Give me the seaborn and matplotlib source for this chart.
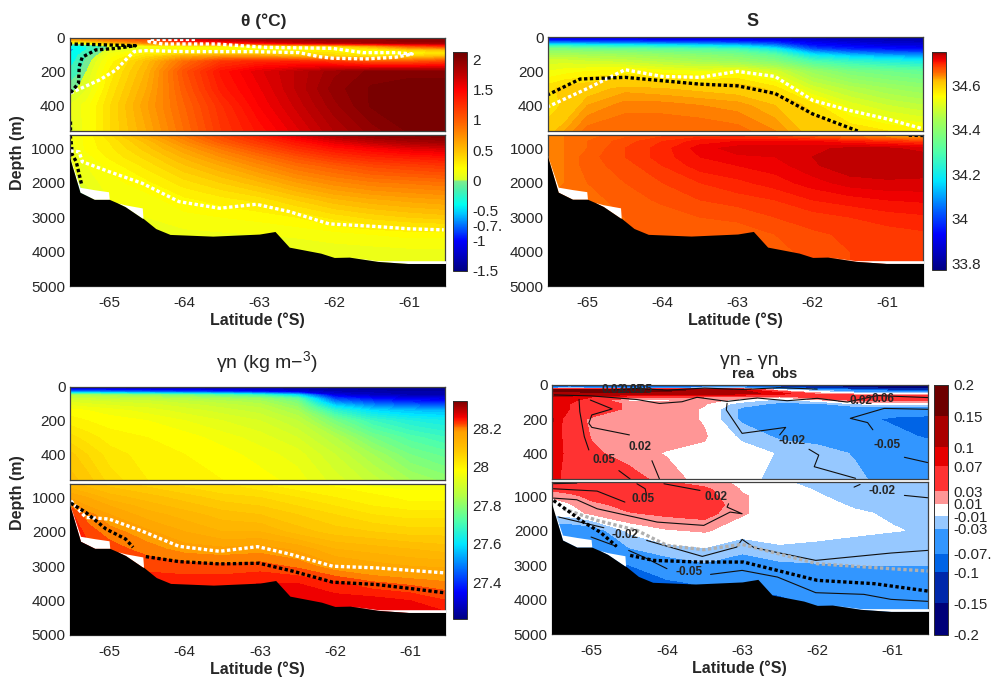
import numpy as np
import pandas as pd
import seaborn as sns
import matplotlib
matplotlib.use('Agg')
import matplotlib.pyplot as plt
from matplotlib.colors import LinearSegmentedColormap, ListedColormap, BoundaryNorm, Normalize
from matplotlib.cm import ScalarMappable

sns.set_style('white')
plt.rcParams['font.family'] = ['Liberation Sans', 'DejaVu Sans']
plt.rcParams['mathtext.default'] = 'regular'
plt.rcParams['axes.unicode_minus'] = False

# grid nodes of all sections
LATS = [-65.55, -65.3, -65, -64.5, -64, -63.5, -63, -62.5, -62, -61.5, -61, -60.5]
UPPER_DEPTHS = [0, 15, 30, 50, 70, 90, 110, 140, 200, 300, 400, 550]
LOWER_DEPTHS = [600, 800, 1000, 1250, 1500, 2000, 2500, 3000, 3500, 4000, 4500, 5000]

THETA_UP = [
    [0.8, 0.9, 1.0, 1.1, 1.5, 1.6, 1.7, 1.75, 1.8, 1.85, 1.9, 1.9],
    [0.5, 0.6, 0.8, 1.0, 1.5, 1.7, 1.8, 1.85, 1.9, 1.9, 1.95, 1.95],
    [0.1, 0.2, 0.5, 0.8, 1.0, 1.3, 1.5, 1.7, 1.8, 1.85, 1.9, 1.9],
    [-0.5, -0.3, 0.0, 0.15, 0.2, 0.2, 0.2, 0.25, 0.35, 0.6, 1.0, 1.2],
    [-0.6, -0.3, 0.05, 0.1, 0.2, 0.2, 0.2, 0.2, 0.2, 0.2, 0.4, 0.5],
    [-0.55, -0.2, 0.1, 0.25, 0.3, 0.35, 0.35, 0.3, 0.3, 0.15, 0.2, 0.3],
    [-0.5, -0.1, 0.15, 0.35, 0.6, 0.7, 0.7, 0.55, 0.4, 0.3, 0.4, 0.5],
    [-0.45, -0.05, 0.2, 0.5, 0.9, 1.2, 1.3, 1.3, 1.2, 1.0, 1.0, 1.1],
    [-0.3, 0.0, 0.25, 0.55, 1.05, 1.4, 1.6, 1.75, 1.9, 2.0, 2.0, 2.0],
    [-0.05, 0.05, 0.3, 0.6, 1.0, 1.35, 1.55, 1.75, 1.95, 2.05, 2.1, 2.1],
    [0.05, 0.15, 0.35, 0.65, 0.95, 1.25, 1.5, 1.7, 1.9, 2.05, 2.1, 2.1],
    [0.0, 0.15, 0.35, 0.6, 0.9, 1.2, 1.4, 1.6, 1.8, 1.95, 2.05, 2.1],
]
THETA_LOW = [
    [0.1, 0.2, 0.35, 0.6, 0.85, 1.1, 1.35, 1.6, 1.8, 1.95, 2.0, 2.05],
    [0.08, 0.2, 0.3, 0.5, 0.75, 1.0, 1.2, 1.4, 1.6, 1.75, 1.85, 1.9],
    [0.05, 0.2, 0.28, 0.45, 0.65, 0.85, 1.05, 1.25, 1.4, 1.5, 1.6, 1.65],
    [0.05, 0.15, 0.25, 0.38, 0.55, 0.72, 0.88, 1.05, 1.2, 1.3, 1.35, 1.4],
    [0.05, 0.12, 0.2, 0.32, 0.47, 0.6, 0.75, 0.9, 1.0, 1.1, 1.15, 1.2],
    [-0.1, 0.08, 0.15, 0.22, 0.33, 0.42, 0.52, 0.65, 0.75, 0.82, 0.85, 0.88],
    [-0.2, -0.05, 0.12, 0.15, 0.22, 0.27, 0.32, 0.42, 0.52, 0.58, 0.62, 0.65],
    [0.1, 0.1, 0.1, 0.12, 0.16, 0.18, 0.2, 0.24, 0.32, 0.38, 0.42, 0.45],
    [0.08, 0.08, 0.08, 0.1, 0.1, 0.11, 0.12, 0.13, 0.15, 0.18, 0.2, 0.2],
    [0.07, 0.07, 0.07, 0.07, 0.08, 0.08, 0.08, 0.08, 0.09, 0.09, 0.1, 0.1],
    [0.07, 0.07, 0.07, 0.07, 0.07, 0.07, 0.07, 0.07, 0.07, 0.07, 0.08, 0.08],
    [0.07, 0.07, 0.07, 0.07, 0.07, 0.07, 0.07, 0.07, 0.07, 0.07, 0.07, 0.07],
]

SAL_UP = [
    [33.88, 33.88, 33.88, 33.88, 33.87, 33.87, 33.86, 33.85, 33.83, 33.82, 33.81, 33.8],
    [33.94, 33.94, 33.94, 33.93, 33.92, 33.92, 33.91, 33.9, 33.87, 33.85, 33.84, 33.83],
    [34.05, 34.05, 34.04, 34.03, 34.02, 34.01, 34.0, 33.97, 33.91, 33.88, 33.86, 33.85],
    [34.25, 34.25, 34.23, 34.22, 34.2, 34.18, 34.15, 34.08, 33.95, 33.92, 33.9, 33.89],
    [34.38, 34.38, 34.36, 34.35, 34.33, 34.31, 34.28, 34.2, 34.02, 33.97, 33.95, 33.94],
    [34.42, 34.42, 34.41, 34.4, 34.38, 34.36, 34.34, 34.27, 34.12, 34.06, 34.03, 34.02],
    [34.46, 34.46, 34.45, 34.44, 34.42, 34.4, 34.38, 34.33, 34.2, 34.15, 34.12, 34.1],
    [34.5, 34.5, 34.49, 34.48, 34.46, 34.44, 34.42, 34.38, 34.29, 34.25, 34.22, 34.2],
    [34.53, 34.54, 34.55, 34.56, 34.54, 34.53, 34.54, 34.5, 34.42, 34.37, 34.35, 34.33],
    [34.58, 34.6, 34.61, 34.625, 34.62, 34.615, 34.61, 34.58, 34.5, 34.46, 34.43, 34.41],
    [34.56, 34.6, 34.63, 34.645, 34.645, 34.64, 34.635, 34.62, 34.58, 34.52, 34.49, 34.47],
    [34.61, 34.63, 34.655, 34.66, 34.66, 34.66, 34.655, 34.64, 34.61, 34.59, 34.57, 34.555],
]
SAL_LOW = [
    [34.64, 34.65, 34.655, 34.665, 34.675, 34.68, 34.68, 34.67, 34.65, 34.63, 34.61, 34.6],
    [34.645, 34.65, 34.66, 34.675, 34.69, 34.705, 34.71, 34.71, 34.71, 34.7, 34.69, 34.68],
    [34.645, 34.65, 34.66, 34.68, 34.695, 34.715, 34.725, 34.725, 34.728, 34.732, 34.732, 34.725],
    [34.645, 34.65, 34.665, 34.68, 34.695, 34.71, 34.718, 34.72, 34.73, 34.738, 34.738, 34.735],
    [34.645, 34.65, 34.665, 34.675, 34.69, 34.705, 34.71, 34.715, 34.728, 34.738, 34.738, 34.735],
    [34.645, 34.65, 34.66, 34.67, 34.68, 34.69, 34.697, 34.705, 34.715, 34.725, 34.728, 34.728],
    [34.65, 34.65, 34.655, 34.665, 34.672, 34.68, 34.685, 34.69, 34.7, 34.705, 34.71, 34.712],
    [34.65, 34.65, 34.655, 34.66, 34.665, 34.67, 34.672, 34.68, 34.685, 34.69, 34.695, 34.698],
    [34.65, 34.65, 34.655, 34.66, 34.66, 34.662, 34.665, 34.67, 34.678, 34.682, 34.685, 34.688],
    [34.65, 34.65, 34.655, 34.66, 34.66, 34.66, 34.655, 34.665, 34.675, 34.68, 34.68, 34.68],
    [34.65, 34.65, 34.655, 34.66, 34.66, 34.66, 34.655, 34.665, 34.675, 34.68, 34.68, 34.68],
    [34.65, 34.65, 34.655, 34.66, 34.66, 34.66, 34.655, 34.665, 34.675, 34.68, 34.68, 34.68],
]

GAMMA_UP = [
    [27.26, 27.26, 27.26, 27.25, 27.25, 27.24, 27.24, 27.23, 27.23, 27.22, 27.22, 27.22],
    [27.33, 27.33, 27.32, 27.31, 27.3, 27.29, 27.28, 27.27, 27.25, 27.24, 27.24, 27.23],
    [27.5, 27.5, 27.48, 27.45, 27.42, 27.4, 27.36, 27.32, 27.27, 27.26, 27.25, 27.25],
    [27.84, 27.84, 27.82, 27.8, 27.78, 27.74, 27.7, 27.6, 27.32, 27.29, 27.27, 27.27],
    [27.9, 27.89, 27.88, 27.87, 27.85, 27.83, 27.81, 27.74, 27.42, 27.36, 27.33, 27.32],
    [27.93, 27.92, 27.91, 27.9, 27.88, 27.86, 27.84, 27.78, 27.5, 27.43, 27.39, 27.38],
    [27.95, 27.94, 27.93, 27.92, 27.9, 27.88, 27.86, 27.8, 27.58, 27.5, 27.46, 27.45],
    [27.98, 27.97, 27.96, 27.94, 27.92, 27.9, 27.88, 27.83, 27.67, 27.59, 27.56, 27.55],
    [28.0, 27.99, 27.98, 27.97, 27.95, 27.93, 27.91, 27.87, 27.77, 27.69, 27.65, 27.63],
    [28.04, 28.02, 28.0, 27.99, 27.98, 27.96, 27.94, 27.91, 27.85, 27.77, 27.72, 27.69],
    [28.08, 28.05, 28.02, 28.0, 27.99, 27.98, 27.96, 27.94, 27.89, 27.83, 27.77, 27.74],
    [28.1, 28.08, 28.04, 28.01, 28.0, 27.99, 27.98, 27.96, 27.92, 27.88, 27.83, 27.8],
]
GAMMA_LOW = [
    [28.12, 28.1, 28.08, 28.06, 28.04, 28.03, 28.01, 28.0, 27.98, 27.96, 27.96, 27.95],
    [28.14, 28.12, 28.1, 28.08, 28.06, 28.04, 28.03, 28.01, 28.0, 27.98, 27.97, 27.97],
    [28.17, 28.15, 28.12, 28.1, 28.08, 28.06, 28.05, 28.03, 28.01, 28.0, 27.98, 27.98],
    [28.21, 28.17, 28.15, 28.12, 28.1, 28.08, 28.07, 28.05, 28.03, 28.01, 28.0, 28.0],
    [28.24, 28.2, 28.17, 28.14, 28.12, 28.1, 28.09, 28.07, 28.05, 28.03, 28.02, 28.02],
    [28.26, 28.22, 28.2, 28.175, 28.15, 28.13, 28.13, 28.1, 28.08, 28.07, 28.06, 28.06],
    [28.27, 28.24, 28.22, 28.2, 28.18, 28.175, 28.18, 28.165, 28.13, 28.12, 28.11, 28.1],
    [28.23, 28.23, 28.23, 28.225, 28.22, 28.215, 28.22, 28.205, 28.175, 28.16, 28.15, 28.145],
    [28.24, 28.24, 28.24, 28.24, 28.24, 28.245, 28.25, 28.25, 28.235, 28.215, 28.205, 28.195],
    [28.25, 28.25, 28.25, 28.25, 28.25, 28.26, 28.265, 28.265, 28.26, 28.26, 28.25, 28.23],
    [28.25, 28.25, 28.25, 28.25, 28.25, 28.26, 28.265, 28.265, 28.26, 28.26, 28.26, 28.26],
    [28.25, 28.25, 28.25, 28.25, 28.25, 28.26, 28.265, 28.265, 28.26, 28.26, 28.26, 28.26],
]

DIFF_UP = [
    [-0.12, -0.1, -0.08, -0.08, -0.09, -0.1, -0.12, -0.13, -0.16, -0.18, -0.19, -0.2],
    [-0.08, -0.06, -0.08, -0.09, -0.08, -0.06, -0.05, -0.09, -0.13, -0.15, -0.17, -0.18],
    [0.17, 0.17, 0.18, 0.18, 0.16, 0.14, 0.1, 0.0, -0.03, -0.07, -0.1, -0.12],
    [0.13, 0.13, 0.13, 0.14, 0.13, 0.12, 0.11, 0.09, 0.02, 0.0, 0.0, 0.0],
    [0.1, 0.09, 0.07, 0.04, 0.04, 0.03, 0.02, 0.01, 0.05, 0.07, 0.06, 0.06],
    [0.09, 0.08, 0.05, 0.005, 0.005, 0.02, 0.0, -0.02, 0.0, 0.03, 0.03, 0.03],
    [0.09, 0.07, 0.05, 0.025, 0.02, 0.012, -0.02, -0.035, -0.035, -0.01, 0.0, 0.0],
    [0.09, 0.07, 0.05, 0.025, 0.02, 0.008, -0.035, -0.045, -0.05, -0.05, -0.05, -0.05],
    [0.11, 0.045, 0.025, 0.02, 0.02, 0.008, -0.035, -0.045, -0.05, -0.06, -0.075, -0.08],
    [0.1, 0.05, 0.028, 0.02, 0.02, 0.012, -0.015, -0.035, -0.04, -0.05, -0.06, -0.075],
    [0.09, 0.06, 0.035, 0.02, 0.008, 0.005, 0.0, -0.012, -0.02, -0.032, -0.05, -0.05],
    [0.08, 0.06, 0.05, 0.04, 0.02, 0.0, 0.0, -0.02, -0.02, -0.025, -0.04, -0.045],
]
DIFF_LOW = [
    [0.04, 0.045, 0.045, 0.04, 0.032, 0.02, 0.005, -0.005, -0.02, -0.025, -0.025, -0.025],
    [0.035, 0.045, 0.05, 0.05, 0.045, 0.035, 0.008, 0.0, -0.012, -0.02, -0.025, -0.025],
    [0.012, 0.02, 0.04, 0.05, 0.05, 0.04, 0.012, 0.0, -0.008, -0.018, -0.022, -0.025],
    [0.0, 0.008, 0.022, 0.04, 0.05, 0.05, 0.012, 0.0, -0.005, -0.012, -0.018, -0.02],
    [-0.005, 0.0, 0.014, 0.028, 0.035, 0.04, 0.012, 0.0, -0.002, -0.008, -0.012, -0.015],
    [-0.05, -0.05, -0.045, -0.005, 0.008, 0.012, 0.0, -0.002, -0.004, -0.006, -0.009, -0.012],
    [-0.05, -0.05, -0.05, -0.03, -0.015, -0.01, -0.022, -0.012, -0.014, -0.018, -0.022, -0.024],
    [-0.08, -0.08, -0.08, -0.07, -0.045, -0.033, -0.045, -0.035, -0.032, -0.03, -0.03, -0.03],
    [-0.08, -0.08, -0.08, -0.08, -0.075, -0.065, -0.06, -0.055, -0.05, -0.05, -0.045, -0.045],
    [-0.08, -0.08, -0.08, -0.08, -0.08, -0.08, -0.08, -0.075, -0.06, -0.05, -0.045, -0.04],
    [-0.08, -0.08, -0.08, -0.08, -0.08, -0.08, -0.08, -0.08, -0.06, -0.05, -0.045, -0.04],
    [-0.08, -0.08, -0.08, -0.08, -0.08, -0.08, -0.08, -0.08, -0.06, -0.05, -0.045, -0.04],
]

# sea floor and the lower limit of the gridded data
FLOOR_LAT = [-65.55, -65.39, -65.2, -65.01, -65.0, -64.9, -64.79, -64.56, -64.55, -64.38, -64.19, -63.62,
             -63.0, -62.79, -62.6, -62.18, -62.0, -61.8, -61.42, -61.02, -60.5]
FLOOR_DEPTH = [1100, 2275, 2480, 2480, 2480, 2575, 2690, 3030, 3030, 3330, 3500, 3550,
               3490, 3415, 3870, 4045, 4170, 4160, 4285, 4345, 4345]
DATA_BOTTOM = [1100, 2130, 2200, 2260, 2480, 2575, 2640, 2730, 3030, 3330, 3500, 3550,
               3490, 3415, 3870, 4045, 4170, 4160, 4265, 4265, 4265]

# isolines drawn over the sections: (lat, depth, colour)
THETA_LINES_UP = [
    ([-65.52, -65.13, -64.91, -64.76, -64.67, -64.51, -63.98, -63.09, -62.47, -62.2, -62.02, -61.58, -61.18,
      -60.96, -61.18, -61.62, -62.02, -62.91, -63.58, -64.29, -64.47, -64.47, -63.84],
     [327, 249, 190, 121, 82, 76, 82, 82, 88, 112, 121, 125, 115, 96, 88, 88, 63, 57, 37, 37, 23, 10, 10], 'white'),
    ([-65.54, -65.31, -65, -64.65, -64.91, -65.18, -65.36, -65.4, -65.41, -65.52],
     [37, 39, 43, 47, 63, 72, 115, 170, 268, 327], 'black'),
    ([-65.53, -65.53], [493, 546], 'black'),
]
THETA_LINES_LOW = [
    ([-65.52, -65.5, -65.5, -65.44, -65.37], [620, 950, 1150, 1386, 2034], 'black'),
    ([-65.52, -65.4, -65.36, -65, -64.56, -64.07, -63.53, -63.04, -62.6, -62.07, -61.44, -61, -60.54],
     [1068, 1097, 1386, 1676, 2014, 2546, 2739, 2623, 2835, 3193, 3270, 3338, 3367], 'white'),
]
SAL_LINES_UP = [
    ([-65.54, -65.0, -64.5, -64, -63.5, -63, -62.5, -62, -61.5, -61, -60.55],
     [410, 300, 190, 230, 235, 200, 230, 370, 430, 480, 535], 'white'),
    ([-65.54, -65.1, -64.5, -64, -63.5, -63, -62.5, -62, -61.4],
     [340, 245, 235, 255, 275, 285, 330, 450, 550], 'black'),
]
SAL_LINES_LOW = [([-60.72, -60.53], [620, 630], 'black')]
GAMMA_LINES_LOW = [
    ([-65.52, -65.32, -65.01, -64.56, -64.08, -63.54, -63.03, -62.61, -62.03, -61.45, -60.96, -60.54],
     [1097, 1580, 1628, 1986, 2420, 2565, 2430, 2643, 3000, 3048, 3126, 3193], 'white'),
    ([-65.52, -65.32, -65.05, -64.79, -64.69], [1164, 1435, 1918, 2208, 2449], 'black'),
    ([-64.52, -64.08, -63.54, -63.01, -62.56, -62.03, -61.45, -60.96, -60.54],
     [2720, 2865, 2932, 2913, 3145, 3464, 3531, 3657, 3773], 'black'),
]
DIFF_LINES_LOW = [
    ([-65.38, -64.93, -64.4, -64, -63.51, -63, -62, -61.02, -60.53],
     [1367, 1705, 1995, 2430, 2555, 2400, 2961, 3106, 3174], '#b0b0b0'),
    ([-65.51, -65.11, -64.89, -64.67], [1126, 1754, 2043, 2459], 'black'),
    ([-64.49, -64.18, -63.56, -62.98, -62, -61.24, -60.53], [2720, 2865, 2913, 2913, 3444, 3541, 3754], 'black'),
]

# thin contours of the difference panel
DIFF_CONTOURS_UP = [
    ([-65.17, -65.16, -65.1, -65.04], [84, 156, 302, 380]),
    ([-64.64, -64.49], [501, 550]),
    ([-65.02, -64.73, -65.0, -65.04, -65.0, -64.5], [88, 140, 175, 224, 248, 292]),
    ([-64.2, -64.1], [443, 550]),
    ([-65.5, -65.0, -64.4, -64.1, -63.8, -63.6, -63.2, -62.8, -62.4, -62.0, -61.6, -61.2, -60.5],
     [58, 64, 85, 108, 98, 72, 96, 76, 92, 78, 100, 62, 74]),
    ([-64.7, -64.4, -64.0, -63.5, -63.0, -62.5, -62.0], [28, 20, 30, 18, 26, 16, 24]),
    ([-63.2, -63.21, -63.0, -62.42, -62.5], [107, 146, 283, 248, 292]),
    ([-62.11, -61.98, -62.04, -61.49], [376, 410, 478, 546]),
    ([-60.53, -61.11, -61.56, -61.33, -61.26], [142, 137, 195, 220, 262]),
    ([-60.84, -60.53], [423, 454]),
]
DIFF_CONTOURS_LOW = [
    ([-65.51, -65.2], [640, 623]),
    ([-65.51, -64.93, -64.56], [787, 855, 1174]),
    ([-64.4, -64.29, -64.27], [642, 787, 980]),
    ([-65.51, -65.2, -64.93, -64.13, -63.51, -63.16, -63, -63.2, -63.18], [1058, 1106, 1367, 1754, 1850, 1464, 1512, 1319, 1222]),
    ([-64.04, -63.56], [642, 836]),
    ([-61.51, -61.43], [740, 662]),
    ([-60.84, -60.53], [980, 1048]),
    ([-65.44, -64.84], [1608, 1918]),
    ([-65.01, -64.67], [2188, 2459]),
    ([-64.27, -63.53, -63.07, -63, -62.84, -62.02, -61.02, -60.53], [2285, 2749, 2478, 2256, 2498, 2865, 2652, 2575]),
    ([-64.51, -64.31, -64], [2575, 2768, 3106]),
    ([-63.42, -63, -62.53, -62.02, -61.38, -61.02, -60.53], [3271, 3155, 3348, 3802, 3850, 3995, 4053]),
]
DIFF_LABELS_UP = [(-64.84, 439, '0.05'), (-64.36, 365, '0.02'), (-62.34, 328, '-0.02'), (-61.07, 353, '-0.05'),
                  (-64.72, 30, '0.02'), (-64.47, 30, '0.05'), (-64.35, 30, '0.05'), (-61.42, 95, '0.02'), (-61.12, 80, '0.06')]
DIFF_LABELS_LOW = [(-64.32, 1087, '0.05'), (-63.35, 1039, '0.02'), (-61.14, 855, '-0.02'),
                   (-64.56, 2120, '-0.02'), (-63.71, 3213, '-0.05')]

DIFF_LEVELS = [-0.2, -0.15, -0.1, -0.07, -0.03, -0.01, 0.01, 0.03, 0.07, 0.1, 0.15, 0.2]
DIFF_COLORS = ['#000078', '#0028aa', '#0064e6', '#3296ff', '#96c8ff', '#ffffff',
               '#ff9696', '#ff3232', '#e60000', '#aa0000', '#6e0000']

THETA_ANCHORS = [(-1.5, '#000082'), (-1.0, '#0000ff'), (-0.75, '#006eff'), (-0.55, '#00c8ff'), (-0.4, '#00fff0'),
                 (-0.15, '#50f0aa'), (-0.01, '#82eb8c'), (0.0, '#d7ff28'), (0.1, '#f0ff14'), (0.2, '#ffff00'),
                 (0.5, '#ffbe00'), (0.75, '#ff8c00'), (1.0, '#ff5a00'), (1.5, '#ff0000'), (1.75, '#be0000'), (2.12, '#6e0000')]
SAL_ANCHORS = [(33.77, '#000082'), (33.93, '#0000ff'), (34.03, '#005aff'), (34.17, '#00e6ff'), (34.3, '#50ffaa'),
               (34.45, '#aaff50'), (34.55, '#ffff00'), (34.62, '#ffbe00'), (34.64, '#ff8c00'), (34.66, '#ff6400'),
               (34.68, '#ff4600'), (34.7, '#ff1e00'), (34.715, '#f00000'), (34.725, '#dc0000'), (34.735, '#c80000'), (34.75, '#780000')]
GAMMA_ANCHORS = [(27.21, '#000082'), (27.35, '#0000ff'), (27.45, '#005aff'), (27.6, '#00e6ff'), (27.72, '#50ffaa'),
                 (27.85, '#b4ff46'), (27.98, '#ffff00'), (28.1, '#ffbe00'), (28.18, '#ffa000'), (28.2, '#ff8200'),
                 (28.22, '#ff4600'), (28.245, '#ff1400'), (28.26, '#f00000'), (28.34, '#780000')]


def anchor_cmap(anchors):
    lo, hi = anchors[0][0], anchors[-1][0]
    return LinearSegmentedColormap.from_list('c', [((v - lo) / (hi - lo), c) for v, c in anchors], N=512)


fig = plt.figure(figsize=(9.92, 6.78), dpi=100)


def px_axes(x0, y0, x1, y1):
    return fig.add_axes([x0 / 992, 1 - y1 / 678, (x1 - x0) / 992, (y1 - y0) / 678])


def draw_isolines(ax, lines):
    xlabel = ax.get_xlabel()
    for lat, depth, color in lines:
        df = pd.DataFrame({'lat': lat, 'depth': depth})
        sns.lineplot(data=df, x='lat', y='depth', ax=ax, color=color, linewidth=2.4, sort=False, estimator=None,
                     linestyle=(0, (1, 0.75)), legend=False)
    ax.set_xlabel(xlabel)
    ax.set_ylabel('')


def draw_contours(ax, lines):
    xlabel = ax.get_xlabel()
    for lat, depth in lines:
        df = pd.DataFrame({'lat': lat, 'depth': depth})
        sns.lineplot(data=df, x='lat', y='depth', ax=ax, color='#101010', linewidth=0.8, sort=False, estimator=None,
                     legend=False)
    ax.set_xlabel(xlabel)
    ax.set_ylabel('')


def panel(box_x, y_up, y_low, up, low, norm, cmap, levels, depth_y=None):
    x0, x1 = box_x
    ax_up = px_axes(x0, y_up[0], x1, y_up[1])
    ax_low = px_axes(x0, y_low[0], x1, y_low[1])
    ax_up.contourf(LATS, UPPER_DEPTHS, up, levels=levels, cmap=cmap, norm=norm, extend='both')
    ax_low.contourf(LATS, LOWER_DEPTHS, low, levels=levels, cmap=cmap, norm=norm, extend='both')
    ax_low.fill_between(FLOOR_LAT, DATA_BOTTOM, FLOOR_DEPTH, color='white', lw=0, zorder=3)
    ax_low.fill_between(FLOOR_LAT, FLOOR_DEPTH, 5000, color='black', lw=0, zorder=3)

    for ax in (ax_up, ax_low):
        ax.set_xlim(-65.53, -60.53)
        ax.set_xticks([-65, -64, -63, -62, -61])
        ax.tick_params(direction='in', length=2.5, width=0.6, color='#303030', labelsize=11, pad=3,
                       left=True, bottom=True, top=False, right=False)
        ax.tick_params(axis='x', pad=7)
        for s in ax.spines.values():
            s.set_color('#404040')
            s.set_linewidth(0.9)
    ax_up.set_ylim(550, 0)
    ax_up.set_yticks([0, 200, 400])
    ax_up.set_xticklabels([])
    ax_low.set_ylim(5000, 600)
    ax_low.set_yticks([1000, 2000, 3000, 4000, 5000])
    ax_low.tick_params(top=True)
    ax_low.set_xlabel('Latitude (°S)', fontweight='bold', fontsize=11.5, labelpad=2)
    if depth_y is not None:
        fig.text(18 / 992, 1 - depth_y / 678, 'Depth (m)', rotation=90, fontweight='bold', fontsize=11.5,
                 ha='center', va='center')
    return ax_up, ax_low


def colorbar(box, norm, cmap, ticks, labels, boundaries=None, size=11):
    cax = px_axes(*box)
    sm = ScalarMappable(norm=norm, cmap=cmap)
    if boundaries is None:
        cb = fig.colorbar(sm, cax=cax)
    else:
        cb = fig.colorbar(sm, cax=cax, boundaries=boundaries, spacing='proportional')
    cb.set_ticks(ticks)
    cb.set_ticklabels(labels)
    cb.minorticks_off()
    cax.tick_params(direction='in', length=2, width=0.6, labelsize=size, pad=4, right=True, color='#202020')
    cb.outline.set_edgecolor('#303030')
    cb.outline.set_linewidth(0.7)
    return cb


# theta
th_norm = Normalize(-1.5, 2.12)
th_cmap = anchor_cmap(THETA_ANCHORS)
th_levels = np.concatenate([[-1.5, -1.0, -0.75, -0.5, -0.3, -0.1], np.arange(0.0, 2.15, 0.06)])
ax_up, ax_low = panel((69.5, 444.5), (37.7, 131), (134.7, 286), THETA_UP, THETA_LOW, th_norm, th_cmap, th_levels, 153)
draw_isolines(ax_up, THETA_LINES_UP)
draw_isolines(ax_low, THETA_LINES_LOW)
colorbar((453, 52, 467, 271), th_norm, th_cmap, [-1.5, -1, -0.75, -0.5, 0, 0.5, 1, 1.5, 2],
         ['-1.5', '-1', '-0.7.', '-0.5', '0', '0.5', '1', '1.5', '2'])
fig.text(264 / 992, 1 - 21 / 678, 'θ (°C)', fontweight='bold', fontsize=12.5, ha='center', va='center')

# salinity
s_norm = Normalize(33.77, 34.75)
s_cmap = anchor_cmap(SAL_ANCHORS)
s_levels = np.concatenate([np.arange(33.77, 34.61, 0.02), np.arange(34.62, 34.76, 0.01)])
ax_up, ax_low = panel((547.7, 923), (37.3, 131), (134.5, 286), SAL_UP, SAL_LOW, s_norm, s_cmap, s_levels)
draw_isolines(ax_up, SAL_LINES_UP)
draw_isolines(ax_low, SAL_LINES_LOW)
colorbar((931.7, 51.7, 946, 270), s_norm, s_cmap, [33.8, 34, 34.2, 34.4, 34.6], ['33.8', '34', '34.2', '34.4', '34.6'])
fig.text(753 / 992, 1 - 21 / 678, 'S', fontweight='bold', fontsize=13, ha='center', va='center')

# neutral density
g_norm = Normalize(27.21, 28.34)
g_cmap = anchor_cmap(GAMMA_ANCHORS)
g_levels = np.arange(27.21, 28.35, 0.02)
ax_up, ax_low = panel((70, 445.3), (386.7, 480), (483.7, 635), GAMMA_UP, GAMMA_LOW, g_norm, g_cmap, g_levels, 493)
draw_isolines(ax_low, GAMMA_LINES_LOW)
colorbar((453, 401, 467, 619.3), g_norm, g_cmap, [27.4, 27.6, 27.8, 28, 28.2], ['27.4', '27.6', '27.8', '28', '28.2'])
fig.text(267 / 992, 1 - 362 / 678, 'γn (kg m−$^{3}$)', fontsize=14, ha='center', va='center')

# difference
d_norm = BoundaryNorm(DIFF_LEVELS, len(DIFF_COLORS))
d_cmap = ListedColormap(DIFF_COLORS)
ax_up, ax_low = panel((552, 927.7), (385, 479), (482.3, 634), DIFF_UP, DIFF_LOW, d_norm, d_cmap, DIFF_LEVELS)
draw_contours(ax_up, DIFF_CONTOURS_UP)
draw_contours(ax_low, DIFF_CONTOURS_LOW)
draw_isolines(ax_low, DIFF_LINES_LOW)
for lat, depth, txt in DIFF_LABELS_UP:
    ax_up.text(lat, depth, txt, fontsize=8.5, fontweight='bold', ha='center', va='center', zorder=6)
for lat, depth, txt in DIFF_LABELS_LOW:
    ax_low.text(lat, depth, txt, fontsize=8.5, fontweight='bold', ha='center', va='center', zorder=6)
colorbar((933.7, 385, 948, 634.7), d_norm, d_cmap, DIFF_LEVELS,
         ['-0.2', '-0.15', '-0.1', '-0.07.', '-0.03', '-0.01', '0.01', '0.03', '0.07', '0.1', '0.15', '0.2'],
         boundaries=DIFF_LEVELS, size=10.8)
fig.text(749 / 992, 1 - 360 / 678, 'γn - γn', fontsize=14, ha='center', va='center')
fig.text(743 / 992, 1 - 374 / 678, 'rea', fontsize=10.5, fontweight='bold', ha='center', va='center')
fig.text(785 / 992, 1 - 374 / 678, 'obs', fontsize=10.5, fontweight='bold', ha='center', va='center')

fig.savefig('out.png', dpi=100)
